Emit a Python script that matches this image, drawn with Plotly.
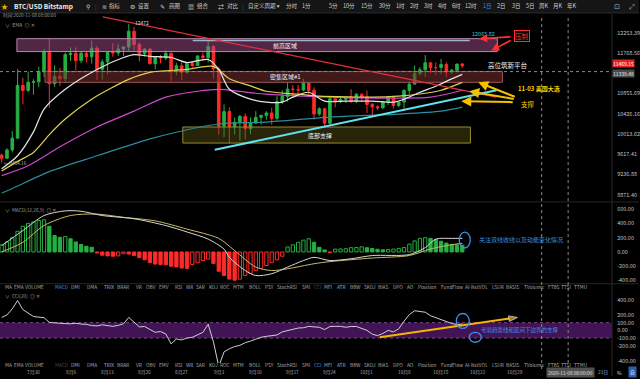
import numpy as np
import pandas as pd
import plotly.graph_objects as go

W, H = 640, 379
XR = 613  # right edge of plotting area (px)

def fx(x):
    return x / W

def fy(y):
    return 1 - y / H

FONT = "Noto Sans CJK SC, Noto Sans, DejaVu Sans, sans-serif"

# ---------------- data ----------------
start = pd.Timestamp("2020-07-24")
def day(d):
    return start + pd.Timedelta(days=d)

dates = pd.date_range(start, periods=88, freq="D")

open_ = [9600, 9540, 9700, 9930, 11030, 10920, 11100, 11110, 11340, 11800,
         11070, 11230, 11180, 11730, 11760, 11590, 11760, 11680, 11880, 11390,
         11560, 11780, 11770, 11860, 11910, 12290, 11970, 11750, 11860, 11520,
         11680, 11650, 11760, 11340, 11470, 11320, 11530, 11480, 11700, 11660,
         11920, 11400, 10170, 10470, 10160, 10250, 10370, 10120, 10230, 10350,
         10390, 10440, 10330, 10680, 10790, 10950, 10940, 10930, 11090, 10920,
         10420, 10530, 10230, 10740, 10690, 10730, 10770, 10690, 10840, 10780,
         10620, 10570, 10550, 10670, 10790, 10600, 10670, 10920, 11060, 11300,
         11380, 11540, 11430, 11430, 11500, 11330, 11370, 11510]
high = [9625, 9730, 10070, 11400, 11200, 11340, 11170, 11450, 11860, 12120,
        11480, 11420, 11780, 11900, 11900, 11800, 11800, 12060, 11930, 11620,
        11800, 12000, 11980, 11930, 12472, 12400, 12020, 11880, 11890, 11690,
        11720, 11830, 11780, 11540, 11580, 11550, 11580, 11700, 11780, 12080,
        11950, 11440, 10620, 10560, 10350, 10400, 10430, 10350, 10480, 10410,
        10480, 10550, 10800, 10930, 11100, 11040, 11040, 11180, 11100, 10990,
        10560, 10550, 10800, 10780, 10800, 10800, 10950, 10860, 10850, 10920,
        10650, 10600, 10690, 10800, 10800, 10690, 10950, 11120, 11480, 11440,
        11720, 11560, 11550, 11630, 11550, 11400, 11520, 11540]
low = [9454, 9530, 9650, 9920, 10620, 10880, 10830, 10990, 11220, 10550,
       11000, 11020, 11080, 11580, 11370, 11530, 11550, 11520, 11150, 11160,
       11280, 11680, 11700, 11700, 11820, 11830, 11570, 11680, 11500, 11390,
       11530, 11600, 11120, 11260, 11150, 11290, 11430, 11470, 11600, 11550,
       11180, 10000, 9950, 9830, 10000, 9880, 9900, 10010, 10220, 10200,
       10300, 10200, 10280, 10630, 10680, 10780, 10820, 10900, 10780, 10300,
       10380, 10150, 10200, 10560, 10650, 10650, 10650, 10650, 10670, 10440,
       10370, 10500, 10520, 10610, 10530, 10560, 10530, 10840, 11060, 11250,
       11220, 11300, 11260, 11280, 11220, 11280, 11350, 11420]
close = [9540, 9700, 9930, 11030, 10920, 11100, 11110, 11340, 11800, 11070,
         11230, 11180, 11730, 11760, 11590, 11760, 11680, 11880, 11390, 11560,
         11780, 11770, 11860, 11910, 12290, 11970, 11750, 11860, 11520, 11680,
         11650, 11760, 11340, 11470, 11320, 11530, 11480, 11700, 11660, 11920,
         11400, 10170, 10470, 10160, 10250, 10370, 10120, 10230, 10350, 10390,
         10440, 10330, 10680, 10790, 10950, 10940, 10930, 11090, 10920, 10420,
         10530, 10230, 10740, 10690, 10730, 10770, 10690, 10840, 10780, 10620,
         10570, 10550, 10670, 10790, 10600, 10670, 10920, 11060, 11300, 11380,
         11540, 11430, 11430, 11500, 11330, 11370, 11510, 11469]

# EMA lines (day index, price)
ema_white_days = [0, 3, 6, 8, 12, 18, 23, 25, 28, 32, 35, 39, 41, 43, 47, 50, 53, 55, 58, 61, 65, 70, 74, 76, 79, 82, 84, 87]
ema_white = [9343, 9587, 10054, 10522, 10946, 11388, 11662, 11731, 11690, 11662, 11547, 11616, 11388, 10946, 10732,
             10668, 10668, 10775, 10881, 10689, 10689, 10689, 10668, 10732, 10881, 11012, 11121, 11276]
ema_yellow_days = [0, 3, 6, 9, 12, 17, 24, 28, 35, 40, 43, 47, 50, 56, 60, 66, 70, 75, 80, 83, 87]
ema_yellow = [9300, 9480, 9650, 10000, 10315, 10732, 11165, 11321, 11388, 11456, 11180, 11020, 10903, 10839, 10796,
              10780, 10775, 10796, 10860, 10925, 11099]
ema_magenta_days = [0, 5, 11, 18, 25, 31, 37, 41, 45, 50, 62, 75, 81, 87]
ema_magenta = [9215, 9399, 9759, 10153, 10480, 10775, 10903, 10946, 10900, 10839, 10775, 10754, 10775, 10925]
ema_teal_days = [0, 2, 9, 18, 28, 34, 41, 50, 62, 75, 83, 87]
ema_teal = [8900, 8981, 9288, 9587, 9915, 10073, 10214, 10254, 10356, 10418, 10480, 10563]

# MACD(12,26,9)
macd_hist = [100, 140, 200, 290, 360, 400, 420, 440, 450, 360,
             230, 205, 215, 185, 140, 105, 80, 65, -15, -45,
             -55, -60, -55, -25, -30, -50, -80, -110, -150, -170,
             -175, -180, -200, -210, -225, -230, -175, -150, -120, -100,
             -160, -270, -330, -380, -395, -380, -330, -300, -260, -230,
             -190, -150, -110, -60, 70, 100, 135, 165, 185, 135,
             65, 28, -8, 40, 42, 45, 60, 62, 72, 60,
             48, 38, 30, 35, 40, 50, 62, 110, 155, 190,
             200, 190, 175, 150, 125, 105, 100, 95]
dif_days = [0, 4, 8, 12, 15, 19, 25, 31, 35, 39, 42, 43, 46, 48, 51, 54, 57, 59, 62, 66, 70, 77, 80, 82, 85, 87]
dif_vals = [89, 300, 510, 575, 570, 510, 465, 370, 280, 180, 40, -75, -260, -330, -305, -212, -120, -75, -120, -95,
            -50, -37, 60, 180, 190, 190]
dea_days = [0, 4, 8, 13, 18, 23, 29, 35, 41, 44, 48, 51, 54, 59, 62, 70, 77, 81, 85, 87]
dea_vals = [0, 135, 370, 510, 530, 485, 435, 320, 190, 19, -212, -260, -235, -165, -135, -85, -50, 42, 102, 120]

# CCI(20)
cci = [168, 200, 280, 387, 270, 220, 180, 172, 165, 103,
       95, 90, 88, 85, 92, 82, 78, 62, 58, 72,
       65, 52, 65, 85, 168, 100, 45, 50, 10, -26,
       -15, -47, -176, -112, -125, -100, -90, -55, -26, 80,
       -150, -470, -280, -240, -210, -195, -160, -140, -110, -90,
       -78, -70, -60, -20, 0, 20, 30, 34, 52, 45,
       40, 10, 50, 52, 52, 40, 50, 50, 25, 0,
       -50, -69, -40, 0, -20, 20, 120, 205, 255, 250,
       236, 190, 165, 135, 110, 90, 75, 82]
cci_band = [-100, 100]

# axis ticks / labels
price_ticks = [12253.39, 11768.56, 10855.69, 10426.16, 10013.62, 9617.41, 9236.88, 8871.40]
macd_ticks = [600, 400, 200, 0, -200, -400]
cci_ticks = [400, 200, 100, 0, -100, -200, -400]
date_labels = ["7月30", "8月6", "8月13", "8月20", "8月27", "9月3", "9月10", "9月17", "9月24",
               "10月1", "10月8", "10月15", "10月22", "10月29"]
date_label_pos = pd.date_range("2020-07-30", periods=14, freq="7D")

last_price = 11469.15
cross_price = 11339.48
level_price = 12065.82
high_mark = 12472
low_mark = 9454.16
cross_date = "2020-11-08"
event_date = "2020-11-03"

# drawn zones / lines
zone_names = ["前高区域", "密集区域#1", "底部支撑"]
zone_t0 = ["2020-07-26 21:00", "2020-08-01 04:00", "2020-08-27 05:00"]
zone_t1 = ["2020-10-25 15:00", "2020-10-26 14:00", "2020-10-20 13:00"]
zone_lo = [11801, 11099, 9833]
zone_hi = [12109, 11343, 10153]
zone_label_t = ["2020-09-15 11:00", "2020-09-15 16:00", "2020-09-22 01:00"]
resist_t = ["2020-08-12 02:00", "2020-10-25 11:00"]
resist_p = [12648, 10775]
support_t = ["2020-09-02 06:00", "2020-10-25 11:00"]
support_p = [9701, 10925]
level_t = ["2020-08-29 02:00", "2020-10-20 10:00"]
cci_trend_t = ["2020-10-03 10:00", "2020-10-29 10:00"]
cci_trend_v = [-90, 168]

# ---------------- styles ----------------
GREEN = "#25b043"
RED = "#ff2a2a"
zone_fill = ["rgba(160,80,140,0.50)", "rgba(120,45,45,0.55)", "rgba(100,90,25,0.40)"]
zone_line = ["#b888ac", "#9a5656", "#9a8a30"]

x_range = [pd.Timestamp("2020-07-23 16:19"), pd.Timestamp("2020-11-16 07:00")]

fig = go.Figure()

# zones
for i in range(3):
    fig.add_trace(go.Scatter(
        x=[zone_t0[i], zone_t1[i], zone_t1[i], zone_t0[i], zone_t0[i]],
        y=[zone_lo[i], zone_lo[i], zone_hi[i], zone_hi[i], zone_lo[i]],
        mode="lines", fill="toself", fillcolor=zone_fill[i],
        line=dict(color=zone_line[i], width=1), hoverinfo="skip",
        xaxis="x", yaxis="y"))

# crosshair horizontal
fig.add_trace(go.Scatter(x=x_range, y=[cross_price, cross_price], mode="lines",
                         line=dict(color="#8a8a8a", width=1, dash="dot"),
                         hoverinfo="skip", xaxis="x", yaxis="y"))

# EMA lines
for ds, vs, col in [(ema_teal_days, ema_teal, "#2b8c9c"),
                    (ema_magenta_days, ema_magenta, "#d048d0"),
                    (ema_yellow_days, ema_yellow, "#e0d050"),
                    (ema_white_days, ema_white, "#e6e6e6")]:
    fig.add_trace(go.Scatter(x=[day(d) for d in ds], y=vs, mode="lines",
                             line=dict(color=col, width=1.2, shape="spline", smoothing=0.8),
                             hoverinfo="skip", xaxis="x", yaxis="y"))

# candles
fig.add_trace(go.Candlestick(
    x=dates, open=open_, high=high, low=low, close=close,
    increasing=dict(line=dict(color=GREEN, width=1), fillcolor=GREEN),
    decreasing=dict(line=dict(color=RED, width=1), fillcolor=RED),
    whiskerwidth=0, xaxis="x", yaxis="y", hoverinfo="skip"))

# trend lines
fig.add_trace(go.Scatter(x=level_t, y=[level_price, level_price], mode="lines",
                         line=dict(color="#9fb2c8", width=1.5), hoverinfo="skip", xaxis="x", yaxis="y"))
fig.add_trace(go.Scatter(x=resist_t, y=resist_p, mode="lines",
                         line=dict(color="#e2303e", width=1.3), hoverinfo="skip", xaxis="x", yaxis="y"))
fig.add_trace(go.Scatter(x=support_t, y=support_p, mode="lines",
                         line=dict(color="#62e2ee", width=2), hoverinfo="skip", xaxis="x", yaxis="y"))

# MACD histogram
fills, lines = [], []
for i, v in enumerate(macd_hist):
    prev = macd_hist[i - 1] if i > 0 else v - 1
    col = GREEN if v >= 0 else RED
    hollow = v > prev
    fills.append("rgba(0,0,0,0)" if hollow else col)
    lines.append(col)
fig.add_trace(go.Bar(x=dates, y=macd_hist, width=0.62 * 86400000,
                     marker=dict(color=fills, line=dict(color=lines, width=1)),
                     hoverinfo="skip", xaxis="x2", yaxis="y2"))
fig.add_trace(go.Scatter(x=[day(d) for d in dea_days], y=dea_vals, mode="lines",
                         line=dict(color="#c8b866", width=1, shape="spline", smoothing=0.8),
                         hoverinfo="skip", xaxis="x2", yaxis="y2"))
fig.add_trace(go.Scatter(x=[day(d) for d in dif_days], y=dif_vals, mode="lines",
                         line=dict(color="#d6d6d6", width=1, shape="spline", smoothing=0.8),
                         hoverinfo="skip", xaxis="x2", yaxis="y2"))

# CCI
fig.add_trace(go.Scatter(x=dates, y=cci, mode="lines", line=dict(color="#cfcfcf", width=1),
                         hoverinfo="skip", xaxis="x3", yaxis="y3"))
fig.add_trace(go.Scatter(x=cci_trend_t, y=cci_trend_v, mode="lines+markers",
                         line=dict(color="#f5b400", width=2),
                         marker=dict(symbol=["circle", "arrow"], size=[1, 9], angleref="previous",
                                     color="#f5b400"),
                         hoverinfo="skip", xaxis="x3", yaxis="y3"))

# ---------------- axes ----------------
xdom = [0, fx(XR)]
common_x = dict(domain=xdom, range=x_range, type="date", showticklabels=False, showgrid=False,
                zeroline=False, showline=False, ticks="")
tickfont = dict(size=5.5, color="#c0c0c0", family=FONT)
fig.update_layout(
    xaxis=dict(common_x, anchor="y", rangeslider=dict(visible=False)),
    xaxis2=dict(common_x, anchor="y2"),
    xaxis3=dict(common_x, anchor="y3"),
    yaxis=dict(domain=[fy(203), fy(15)], type="log", range=[np.log10(8753), np.log10(12697)],
               side="right", anchor="x", tickvals=price_ticks, ticktext=[f"{v:.2f}" for v in price_ticks],
               showgrid=False, zeroline=False, ticks="outside", ticklen=3, tickcolor="#000", tickfont=tickfont),
    yaxis2=dict(domain=[fy(284), fy(204)], range=[-417, 694], side="right", anchor="x2",
                tickvals=macd_ticks, ticktext=[f"{v:.2f}" for v in macd_ticks],
                showgrid=False, zeroline=False, ticks="outside", ticklen=3, tickcolor="#000", tickfont=tickfont),
    yaxis3=dict(domain=[fy(366), fy(292)], range=[-426, 529], side="right", anchor="x3",
                tickvals=cci_ticks, ticktext=[f"{v:.2f}" for v in cci_ticks],
                showgrid=False, zeroline=False, ticks="outside", ticklen=3, tickcolor="#000", tickfont=tickfont),
    width=W, height=H, margin=dict(l=0, r=0, t=0, b=0),
    paper_bgcolor="#000000", plot_bgcolor="#000000", showlegend=False,
    font=dict(family=FONT, color="#bbbbbb", size=6),
)

shapes = []
# toolbar
shapes.append(dict(type="rect", xref="paper", yref="paper", x0=0, x1=1, y0=fy(13), y1=1,
                   fillcolor="#151515", line=dict(width=0), layer="below"))
shapes.append(dict(type="line", xref="paper", yref="paper", x0=0, x1=1, y0=fy(13), y1=fy(13),
                   line=dict(color="#2c2c2c", width=1)))
# panel separators
for yy in [203.5, 286]:
    shapes.append(dict(type="line", xref="paper", yref="paper", x0=0, x1=1, y0=fy(yy), y1=fy(yy),
                       line=dict(color="#262626", width=1)))
shapes.append(dict(type="line", xref="paper", yref="paper", x0=fx(XR), x1=fx(XR), y0=fy(379), y1=fy(14),
                   line=dict(color="#2a2a2a", width=1)))
# CCI band
shapes.append(dict(type="rect", xref="paper", yref="y3", x0=0, x1=fx(XR), y0=cci_band[0], y1=cci_band[1],
                   fillcolor="#421456", line=dict(width=0), layer="below"))
for b in cci_band:
    shapes.append(dict(type="line", xref="paper", yref="y3", x0=0, x1=fx(XR), y0=b, y1=b,
                       line=dict(color="#7a4a8a", width=1, dash="dot"), layer="below"))
# vertical dotted lines
for dd in [event_date, cross_date]:
    shapes.append(dict(type="line", xref="x", yref="paper", x0=dd, x1=dd, y0=fy(372), y1=fy(15),
                       line=dict(color="#8a8a8a", width=1, dash="dot")))
# blue ellipses
BLUE = "#3a8ee8"
for (x0, y0, x1, y1) in [(460, 234, 471, 250), (457, 316, 470, 331), (470, 335, 482, 345)]:
    shapes.append(dict(type="circle", xref="paper", yref="paper", x0=fx(x0), x1=fx(x1), y0=fy(y1), y1=fy(y0),
                       line=dict(color=BLUE, width=1.3)))
fig.update_layout(shapes=shapes)

ann = []
def A(text, x, y, size=6, color="#bbbbbb", xanchor="center", **kw):
    d = dict(text=text, x=fx(x), y=fy(y), xref="paper", yref="paper", showarrow=False,
             xanchor=xanchor, yanchor="middle", font=dict(size=size, color=color, family=FONT))
    d.update(kw)
    ann.append(d)

# toolbar
A("★", 5, 6.5, 7, "#f0a800")
A("<b>BTC/USD Bitstamp</b>", 12, 6.5, 6.5, "#eeeeee", "left")
A("⚲", 88, 6.5, 6, "#cccccc")
A("|", 96, 6.5, 6, "#444444")
for ic, xi in [("≋", 105), ("⚙", 133), ("✎", 163), ("▦", 191), ("⇄", 221)]:
    A(ic, xi, 6.5, 6, "#cccccc")
A("|", 243, 6.5, 6, "#444444")
for t, xc in [("指标", 115), ("设置", 144), ("画图", 175), ("组合", 203), ("对比", 233),
              ("自定义周期 ▾", 264), ("分时", 292), ("1分", 307), ("5分", 334), ("10分", 350),
              ("15分", 368), ("30分", 386), ("1时", 401), ("2时", 415), ("3时", 429), ("4时", 443),
              ("6时", 457), ("12时", 472), ("2日", 502), ("3日", 517), ("5日", 531), ("周K", 545),
              ("月K", 559), ("年K", 573)]:
    A(t, xc, 6.5, 5.5, "#d0d0d0")
A("1日", 488, 6.5, 5.5, BLUE)
A("⊡", 618, 6.5, 7, "#aaaaaa")
A("⤢", 633, 6.5, 7, "#aaaaaa")

A("时间:2020-11-08 08:00:00", 1, 16, 4.6, "#9a9a9a", "left")
A("∨  EMA  ◎ ✕", 3, 24.5, 5, "#9a9a9a", "left")
A("∨  MACD(12,26,9)  ◎ ✕", 3, 212, 4.8, "#9a9a9a", "left")
A("∨  CCI(20)  ◎ ✕", 3, 298, 4.8, "#9a9a9a", "left")

A(f"{high_mark}", 142, 22.5, 5, "#dddddd")
A(f"← {low_mark:.2f}", 2, 164, 4.6, "#bbbbbb", "left")

# price-axis markers (stacked, not overlapping)
ann.append(dict(text=f"{last_price:.2f}", x=fx(XR), y=np.log10(last_price), xref="paper", yref="y",
                showarrow=False, xanchor="left", yanchor="bottom", bgcolor="#e02424", borderpad=0,
                yshift=-2.2, font=dict(size=5, color="#ffffff", family=FONT)))
ann.append(dict(text=f"{cross_price:.2f}", x=fx(XR), y=np.log10(cross_price), xref="paper", yref="y",
                showarrow=False, xanchor="left", yanchor="top", bgcolor="#4a4a4a", borderpad=0,
                yshift=2.2, font=dict(size=5, color="#eeeeee", family=FONT)))

# zone labels
for i in range(3):
    ann.append(dict(text=zone_names[i], x=zone_label_t[i], y=np.log10(np.sqrt(zone_lo[i] * zone_hi[i])),
                    xref="x", yref="y", showarrow=False, xanchor="center", yanchor="middle",
                    font=dict(size=6, color="#f2f2f2", family=FONT)))

# right-side comments
A(f"{level_price:.2f}", 484, 34, 5.5, "#3cc8d8")
A("压制", 523, 36, 6.5, "#ff3030", bordercolor="#ff3030", borderwidth=1, borderpad=0)
A("高位筑新平台", 508, 66, 6.5, "#f0f0f0")
A("<b>11-03 美国大选</b>", 540, 89, 6, "#ffd400")
A("支撑", 529, 105, 6.5, "#ffd400")
A("关注双线收线以及动能变化情况", 478, 241, 6, BLUE, "left")
A("考验趋势线和区间下边界的支撑", 480, 333, 5.5, BLUE, "left")

# arrows
def arrow(hx, hy, tx, ty, color, width=1.6, size=1.0):
    ann.append(dict(text="", x=fx(hx), y=fy(hy), xref="paper", yref="paper", showarrow=True,
                    ax=tx - hx, ay=ty - hy, axref="pixel", ayref="pixel",
                    arrowhead=2, arrowsize=size, arrowwidth=width, arrowcolor=color))
arrow(480, 39, 513, 37, "#ff3030")
arrow(492, 51, 513, 40, "#ff3030")
arrow(479, 83, 517, 98, "#f5c000", 2)
arrow(470, 92, 516, 100, "#f5c000", 2)
arrow(462, 102, 515, 103, "#f5c000", 2)

# indicator rows
words = ["MA", "EMA", "VOLUME", "MACD", "DMI", "DMA", "TRIX", "BRAR", "VR", "OBV", "EMV", "RSI", "WR", "SAR",
         "KDJ", "ROC", "MTM", "BOLL", "PSY", "StochRSI", "SMI", "CCI", "MFI", "ATR", "BBW", "SKDJ", "BIAS",
         "DPO", "AO", "Position", "FundFlow", "AI-NetVOL", "LSUR", "BASIS", "TVolume", "FTBS", "TTSI", "TTMU"]
word_x = [3, 12, 23, 53, 69, 85, 102, 115, 134, 144, 157, 173, 184, 194, 207, 218, 231, 247, 263, 275, 300,
          312, 323, 336, 349, 363, 377, 392, 406, 417, 440, 464, 491, 505, 523, 547, 560, 573]
for row_y, active, dim in [(289, "MACD", "CCI"), (367, "CCI", "MACD")]:
    for w, xw in zip(words, word_x):
        col = BLUE if w == active else ("#4a4a4a" if w == dim else "#a8a8a8")
        A(w, xw, row_y, 4.8, col, "left")

# date labels
for lab, dt in zip(date_labels, date_label_pos):
    ann.append(dict(text=lab, x=dt, y=fy(375), xref="x3", yref="paper", showarrow=False,
                    xanchor="center", yanchor="middle", font=dict(size=4.8, color="#a8a8a8", family=FONT)))
A("2020-11-08 08:00:00", 571, 375, 4.8, "#e8e8e8", bgcolor="#505050", borderpad=1)
A("21日", 604, 375, 4.8, "#8ab4f0")
A("%", 620, 375, 5, "#dddddd")
A("自", 633, 375, 4.8, "#ffffff", bgcolor="#2a5fb0", borderpad=1)

fig.update_layout(annotations=ann)
fig.write_html("out.html")
